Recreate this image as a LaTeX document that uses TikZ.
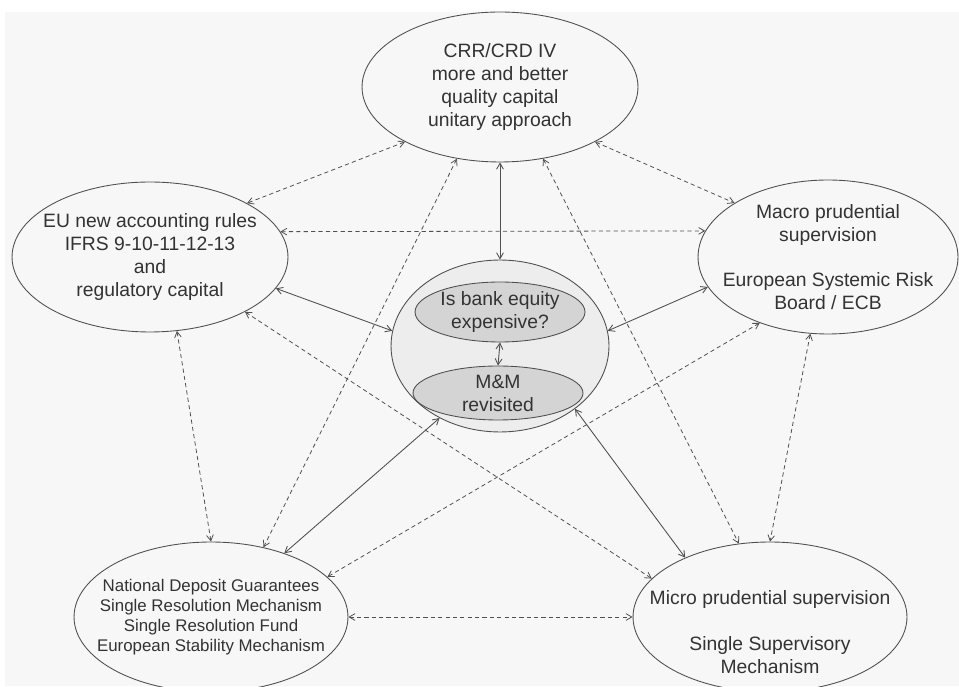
\documentclass[tikz,border=0pt]{standalone}
\usepackage{fontspec}
\setmainfont{Liberation Sans}
\usetikzlibrary{shapes.geometric, arrows}
\definecolor{ink}{HTML}{333333}
\definecolor{edge}{HTML}{505050}

\begin{document}
\begin{tikzpicture}[x=0.02cm, y=0.02cm,
  bubble/.style={ellipse, draw=edge, inner sep=0pt, line width=0.5pt},
  txt/.style={align=center, text=ink, font=\fontsize{11}{13}\selectfont},
  small/.style={align=center, text=ink, font=\fontsize{9.6}{11.4}\selectfont},
  link/.style={<->, >=angle 60, draw=edge, line width=0.5pt},
  loose/.style={<->, >=angle 60, draw=edge, line width=0.45pt, dash pattern=on 2.4pt off 1.8pt}]
\useasboundingbox (0,0) rectangle (959,686);
\fill[black!3] (5,0) rectangle (959,674);

\node[bubble, minimum width=5.52cm, minimum height=3cm,
  label={[txt]center:{CRR/CRD IV\\more and better\\quality capital\\unitary approach}}] (crr) at (500,599) {};
\node[bubble, minimum width=5.52cm, minimum height=3cm,
  label={[txt]center:{EU new accounting rules\\IFRS 9-10-11-12-13\\and\\regulatory capital}}] (ifrs) at (150,429) {};
\node[bubble, minimum width=5.2cm, minimum height=3.08cm,
  label={[txt]center:{Macro prudential\\supervision\\[13pt]European Systemic Risk\\Board / ECB}}] (macro) at (828,429) {};
\node[bubble, minimum width=5.48cm, minimum height=3cm,
  label={[small]center:{National Deposit Guarantees\\Single Resolution Mechanism\\Single Resolution Fund\\European Stability Mechanism}}] (ndg) at (211,69) {};
\node[bubble, minimum width=5.48cm, minimum height=3cm,
  label={[txt, yshift=-0.3cm]center:{Micro prudential supervision\\[13pt]Single Supervisory\\Mechanism}}] (micro) at (770,69) {};

% the hub with its two questions
\node[bubble, fill=black!7, minimum width=4.36cm, minimum height=3.44cm] (hub) at (500,340) {};
\node[bubble, fill=black!17, minimum width=3.4cm, minimum height=1.2cm,
  label={[txt]center:{Is bank equity\\expensive?}}] (eqq) at (500,374) {};
\node[bubble, fill=black!17, minimum width=3.4cm, minimum height=1.08cm,
  label={[txt]center:{M\&M\\revisited}}] (mm) at (498,293) {};

\draw[link] (crr.south) -- (hub.north);
\draw[link] (ifrs.-14) -- (hub.172);
\draw[link] (macro.194) -- (hub.8);
\draw[link] (ndg.41) -- (hub.230);
\draw[link] (micro.145) -- (hub.320);
\draw[link] (eqq.south) -- (mm.north);

\foreach \a/\b in {crr.210/ifrs.29, crr.330/macro.150, crr.239/ndg.53, crr.301/micro.113,
  ifrs.11/macro.168, ifrs.-30/micro.162, ifrs.-70/ndg.90,
  macro.224/ndg.19, macro.257/micro.90, ndg.east/micro.west}
  \draw[loose] (\a) -- (\b);
%\draw[loose] (ifrs.east) -- (macro.west);
\end{tikzpicture}
\end{document}
